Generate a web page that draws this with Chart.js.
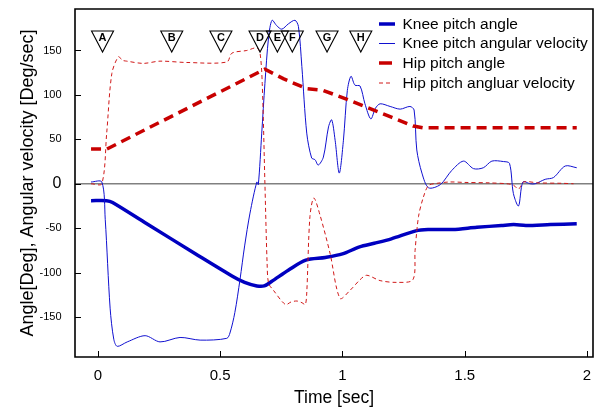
<!DOCTYPE html>
<html>
<head>
<meta charset="utf-8">
<script src="https://cdn.jsdelivr.net/npm/chart.js@4.4.1/dist/chart.umd.min.js"></script>
<style>
html,body{margin:0;padding:0;background:#fff;}
canvas{display:block;}
</style>
</head>
<body>
<canvas id="c" width="597" height="409"></canvas>
<script>
// ---- data (time [sec], value) ----
const kneeAngle = [[-0.028,-19],[0.036,-19],[0.06,-21],[0.2,-45],[0.4,-79],[0.55,-104],[0.6,-111],[0.65,-115],[0.68,-115],[0.71,-110],[0.78,-97],[0.85,-86],[0.93,-83],[1.0,-79],[1.07,-71],[1.13,-67],[1.2,-62],[1.3,-53],[1.35,-51.5],[1.45,-51.5],[1.55,-49],[1.65,-47],[1.7,-46],[1.75,-47],[1.85,-46],[1.958,-45]];
const kneeVel = [[-0.028,2],[0.016,2],[0.03,-40],[0.05,-140],[0.065,-175],[0.079,-183],[0.12,-178],[0.193,-171],[0.254,-178],[0.336,-173],[0.418,-176],[0.527,-174],[0.54,-168],[0.56,-145],[0.581,-108],[0.6,-70],[0.622,-33],[0.65,2],[0.656,-1],[0.670,57],[0.683,113],[0.698,165],[0.712,184],[0.731,178],[0.752,174],[0.779,180],[0.806,184],[0.820,177],[0.834,132],[0.854,57],[0.874,29],[0.888,27],[0.901,21],[0.922,30],[0.943,64],[0.956,72],[0.970,49],[0.987,12],[1.004,49],[1.020,105],[1.035,121],[1.051,111],[1.072,110],[1.092,90],[1.116,73],[1.135,85],[1.154,90],[1.195,87],[1.236,84],[1.276,87],[1.293,83],[1.304,38],[1.325,12],[1.352,-4.5],[1.4,-1],[1.447,15],[1.495,25.5],[1.536,17],[1.576,18],[1.611,25.5],[1.658,25],[1.683,23],[1.699,-11],[1.72,-25],[1.738,2],[1.768,0],[1.788,0],[1.829,5],[1.863,7],[1.911,20],[1.958,18]];
const hipAngle = [[-0.028,39],[0.036,39],[0.683,129],[0.76,118],[0.854,107],[0.922,105],[1.0,97],[1.1,86],[1.2,75],[1.29,65],[1.33,63],[1.958,63]];
const hipVel = [[-0.028,0],[0.016,0],[0.036,57],[0.057,124],[0.084,143],[0.1,139],[0.118,138],[0.186,135.5],[0.254,138],[0.363,136.5],[0.527,137],[0.548,147],[0.609,150],[0.650,153],[0.663,147],[0.672,113],[0.683,0],[0.692,-90],[0.698,-112],[0.718,-120],[0.767,-136],[0.790,-133],[0.814,-132],[0.835,-134],[0.848,-136],[0.854,-123],[0.867,-37],[0.883,-16],[0.908,-35],[0.949,-78],[0.99,-129],[1.031,-120],[1.072,-108],[1.099,-103],[1.154,-109],[1.222,-111],[1.288,-108],[1.297,-75],[1.311,-37],[1.331,-15],[1.352,-2],[1.386,0.5],[1.44,2],[1.5,1.5],[1.6,1],[1.672,0],[1.699,-1.5],[1.72,-6],[1.741,2],[1.8,1],[1.9,0.5],[1.945,0]];

// phase markers
const markerLabels = ['A','B','C','D','E','F','G','H'];
const markerTimes = [0.019,0.302,0.503,0.663,0.734,0.795,0.937,1.075];
const markerTopValue = 172;

const seriesNames = ['Knee pitch angle','Knee pitch angular velocity','Hip pitch angle','Hip pitch angluar velocity'];
const xTickLabels = ['0','0.5','1','1.5','2'];
const yTickValues = [-150,-100,-50,0,50,100,150];

const toXY = a => a.map(p => ({x:p[0], y:p[1]}));
const FONT = "'Liberation Sans', Arial, Helvetica, sans-serif";
const BLUE = '#0000c0';
const BLUE2 = '#1010d0';
const RED = '#c80000';
const RED2 = '#d01818';

const styles = [
  {color:BLUE, width:3.5, dash:[]},
  {color:BLUE2, width:1, dash:[]},
  {color:RED, width:3.5, dash:[10,6]},
  {color:RED2, width:1, dash:[4,3]}
];
const allData = [kneeAngle, kneeVel, hipAngle, hipVel];

const decor = {
  id:'decor',
  beforeDatasetsDraw(chart){
    const {ctx, chartArea:a, scales:{y}} = chart;
    ctx.save();
    ctx.strokeStyle = '#808080';
    ctx.lineWidth = 1.4;
    const y0 = y.getPixelForValue(0);
    ctx.beginPath(); ctx.moveTo(a.left, y0); ctx.lineTo(a.right, y0); ctx.stroke();
    ctx.restore();
  },
  afterDraw(chart){
    const {ctx, chartArea:a, scales:{x,y}} = chart;
    ctx.save();
    ctx.setLineDash([]);
    ctx.globalAlpha = 1;
    // inner ticks
    ctx.strokeStyle = '#000'; ctx.lineWidth = 1;
    x.ticks.forEach(t => {
      const px = Math.round(x.getPixelForValue(t.value)) + 0.5;
      ctx.beginPath(); ctx.moveTo(px, a.bottom); ctx.lineTo(px, a.bottom - 6); ctx.stroke();
    });
    y.ticks.forEach(t => {
      const py = Math.round(y.getPixelForValue(t.value)) + 0.5;
      ctx.beginPath(); ctx.moveTo(a.left, py); ctx.lineTo(a.left + 6, py); ctx.stroke();
    });
    // frame
    ctx.lineWidth = 1.6;
    ctx.beginPath();
    ctx.moveTo(a.left, a.top); ctx.lineTo(a.right, a.top); ctx.lineTo(a.right, a.bottom);
    ctx.lineTo(a.left, a.bottom); ctx.closePath();
    ctx.stroke();
    // phase markers
    ctx.lineWidth = 1.1;
    ctx.font = 'bold 11px ' + FONT;
    ctx.textAlign = 'center'; ctx.textBaseline = 'middle';
    ctx.fillStyle = '#000';
    markerTimes.forEach((t, i) => {
      const cx = x.getPixelForValue(t);
      const top = y.getPixelForValue(markerTopValue);
      ctx.beginPath();
      ctx.moveTo(cx - 11, top); ctx.lineTo(cx + 11, top); ctx.lineTo(cx, top + 21); ctx.closePath();
      ctx.stroke();
      ctx.fillText(markerLabels[i], cx, top + 7.5);
    });
    // legend
    const rows = [24, 43.5, 63, 83];
    ctx.font = '15.5px ' + FONT;
    ctx.textAlign = 'left';
    seriesNames.forEach((n, i) => {
      const s = styles[i];
      ctx.strokeStyle = s.color; ctx.lineWidth = s.width;
      ctx.setLineDash(i === 2 ? [] : s.dash);
      ctx.beginPath();
      ctx.moveTo(379, rows[i]); ctx.lineTo(i === 2 ? 392 : (i === 3 ? 393 : 395), rows[i]);
      ctx.stroke();
      ctx.setLineDash([]);
      ctx.fillStyle = '#000';
      ctx.fillText(n, 402.5, rows[i] + 0.5);
    });
    ctx.restore();
  }
};

new Chart(document.getElementById('c'), {
  type:'scatter',
  data:{
    datasets: allData.map((d, i) => ({
      label: seriesNames[i],
      data: toXY(d),
      showLine: true,
      borderColor: styles[i].color,
      borderWidth: styles[i].width,
      borderDash: styles[i].dash,
      pointRadius: 0,
      tension: (i === 2) ? 0 : 0.3,
      fill: false
    })).reverse()
  },
  options:{
    responsive:false,
    animation:false,
    layout:{padding:{left:0, right:4, top:9, bottom:0}},
    plugins:{legend:{display:false}, tooltip:{enabled:false}},
    scales:{
      x:{
        type:'linear', min:-0.0936, max:2.0245,
        afterFit(s){ s.height = 52; s.paddingLeft = 0; s.paddingRight = 0; },
        grid:{display:false, drawTicks:false},
        border:{display:false},
        ticks:{stepSize:0.5, includeBounds:false, color:'#000', padding:10,
          font:{family:FONT, size:15},
          callback:(v) => { const i = Math.round(v / 0.5); return (i >= 0 && i < xTickLabels.length) ? xTickLabels[i] : ''; }},
        title:{display:true, text:'Time [sec]', color:'#000', font:{family:FONT, size:17.5}, padding:{top:0, bottom:0}}
      },
      y:{
        type:'linear', min:-195, max:196.7,
        afterFit(s){ s.width = 75; s.paddingTop = 0; s.paddingBottom = 0; },
        afterBuildTicks(s){ s.ticks = yTickValues.map(v => ({value:v})); },
        grid:{display:false, drawTicks:false},
        border:{display:false},
        ticks:{color:'#000', padding:13.5,
          font:(c) => ({family:FONT, size:(c.tick && c.tick.value === 0) ? 16 : 11})},
        title:{display:true, text:'Angle[Deg], Angular velocity [Deg/sec]', color:'#000', font:{family:FONT, size:18}, padding:{top:17, bottom:0}}
      }
    }
  },
  plugins:[decor]
});
</script>
</body>
</html>
